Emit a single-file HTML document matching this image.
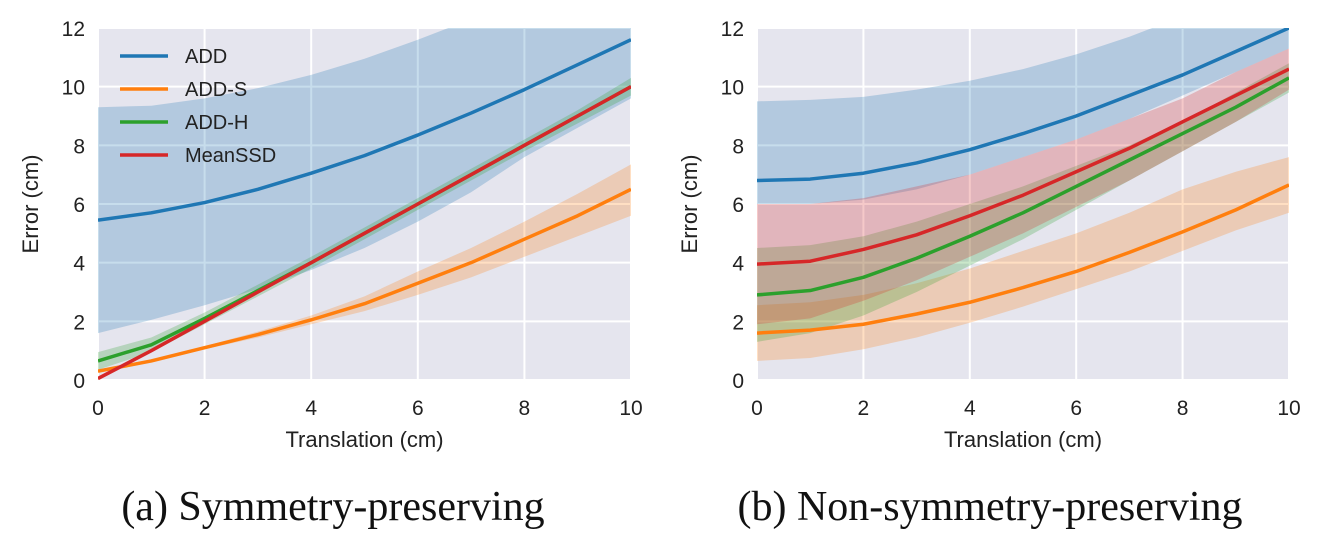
<!DOCTYPE html>
<html><head><meta charset="utf-8"><style>
body{margin:0;background:#fff;width:1340px;height:546px;overflow:hidden}
text{font-family:"Liberation Sans",sans-serif}
</style></head><body>
<svg id="svg" width="1340" height="546"></svg>
<script>
const xs=[0,1,2,3,4,5,6,7,8,9,10];
const seriesNames=["ADD","ADD-S","ADD-H","MeanSSD"];
const colors=["#1f77b4","#ff7f0e","#2ca02c","#d62728"];
const xTicks=[0,2,4,6,8,10];
const yTicks=[0,2,4,6,8,10,12];
// panel a
const aMean=[[5.45,5.7,6.05,6.5,7.05,7.65,8.35,9.1,9.9,10.75,11.6],[0.3,0.65,1.1,1.55,2.05,2.6,3.3,4.0,4.8,5.6,6.5],[0.65,1.2,2.1,3.05,4.0,5.0,6.0,7.0,8.0,9.0,10.0],[0.05,1.0,2.0,3.0,4.0,5.0,6.0,7.0,8.0,9.0,10.0]];
const aLow=[[1.6,2.05,2.55,3.1,3.75,4.5,5.4,6.4,7.6,8.6,9.6],[0.25,0.6,1.05,1.45,1.9,2.35,2.9,3.5,4.2,4.9,5.6],[0.35,0.95,1.9,2.85,3.8,4.8,5.8,6.8,7.8,8.75,9.7],[0.0,0.95,1.95,2.95,3.95,4.95,5.95,6.95,7.95,8.95,9.95]];
const aHigh=[[9.3,9.35,9.6,9.95,10.4,10.95,11.6,12.3,13,13.7,14.4],[0.35,0.7,1.15,1.65,2.2,2.85,3.7,4.5,5.4,6.35,7.35],[0.95,1.45,2.3,3.25,4.2,5.2,6.2,7.2,8.2,9.2,10.3],[0.1,1.05,2.05,3.05,4.05,5.05,6.05,7.05,8.05,9.05,10.05]];
// panel b
const bMean=[[6.8,6.85,7.05,7.4,7.85,8.4,9.0,9.7,10.4,11.2,12.0],[1.6,1.7,1.9,2.25,2.65,3.15,3.7,4.35,5.05,5.8,6.65],[2.9,3.05,3.5,4.15,4.9,5.7,6.6,7.5,8.4,9.3,10.3],[3.95,4.05,4.45,4.95,5.6,6.3,7.1,7.9,8.8,9.7,10.6]];
const bLow=[[6.0,6.0,6.15,6.5,7.0,7.6,8.2,8.9,9.7,10.5,11.3],[0.65,0.75,1.05,1.45,1.95,2.5,3.1,3.7,4.4,5.1,5.7],[1.3,1.6,2.2,3.0,3.9,4.8,5.8,6.8,7.8,8.8,9.8],[1.9,2.1,2.7,3.4,4.2,5.0,5.9,6.8,7.8,8.8,9.9]];
const bHigh=[[9.5,9.55,9.65,9.9,10.2,10.6,11.1,11.7,12.4,13.2,14],[2.55,2.65,2.9,3.3,3.8,4.4,5.0,5.7,6.5,7.1,7.6],[4.5,4.6,4.9,5.4,6.0,6.6,7.3,8.0,8.8,9.8,10.8],[6.0,6.0,6.2,6.6,7.0,7.6,8.2,8.9,9.6,10.5,11.3]];

const NS="http://www.w3.org/2000/svg";
const svg=document.getElementById('svg');
function mk(t,a,p){const e=document.createElementNS(NS,t);for(const k in a)e.setAttribute(k,a[k]);(p||svg).appendChild(e);return e;}
const Y0=380,Y1=28;
function panel(id,L,R,mean,low,high,legend,caption,cx){
  const g=mk('g',{});
  
  
  const xp=v=>L+(v/10)*(R-L), yp=v=>Y0-(v/12)*(Y0-Y1);
  const cp=mk('clipPath',{id:id+'c'},g);mk('rect',{x:L,y:Y1,width:R-L,height:Y0-Y1},cp);
  const bg=mk('rect',{x:L,y:Y1,width:R-L,height:Y0-Y1,fill:'#e5e5ee'},g);
  
  
  xTicks.forEach(t=>{mk('line',{x1:xp(t),x2:xp(t),y1:Y1,y2:Y0,stroke:'#fff','stroke-width':2},g);
    const tx=mk('text',{x:xp(t),y:415,'font-size':21,'text-anchor':'middle',fill:'#222'},g);tx.textContent=t;
    
    });
  yTicks.forEach(t=>{mk('line',{x1:L,x2:R,y1:yp(t),y2:yp(t),stroke:'#fff','stroke-width':2},g);
    const tx=mk('text',{x:L-13,y:yp(t)+8,'font-size':21,'text-anchor':'end',fill:'#222'},g);tx.textContent=t;
    
    });
  const pg=mk('g',{'clip-path':'url(#'+id+'c)'},g);
  for(let s=0;s<4;s++){
    let d=xs.map((x,i)=>(i?'L':'M')+xp(x)+','+yp(high[s][i])).join('');
    d+=xs.slice().reverse().map((x,j)=>'L'+xp(x)+','+yp(low[s][10-j])).join('')+'Z';
    const b=mk('path',{d:d,fill:colors[s],'fill-opacity':0.25},pg);
    
    
  }
  for(let s=0;s<4;s++){
    const d=xs.map((x,i)=>(i?'L':'M')+xp(x)+','+yp(mean[s][i])).join('');
    const l=mk('path',{d:d,fill:'none',stroke:colors[s],'stroke-width':3.5,'stroke-linejoin':'round'},pg);
    
    
  }
  const xl=mk('text',{x:(L+R)/2,y:447,'font-size':22,'text-anchor':'middle',fill:'#222'},g);xl.textContent='Translation (cm)';
  
  
  const yl=mk('text',{x:0,y:0,'font-size':22,'text-anchor':'middle',fill:'#222',transform:'translate('+(L-60)+',204) rotate(-90)'},g);yl.textContent='Error (cm)';
  
  
  if(legend){
    for(let s=0;s<4;s++){
      const y=56+s*33;
      const ll=mk('line',{x1:120,x2:168,y1:y,y2:y,stroke:colors[s],'stroke-width':3.5},g);
      
      
      const lt=mk('text',{x:185,y:y+7,'font-size':20,fill:'#222'},g);lt.textContent=seriesNames[s];
      
      
    }
  }
  const c=mk('text',{x:cx,y:520,'font-size':42,'text-anchor':'middle',fill:'#111',style:'font-family:"Liberation Serif",serif'},g);c.textContent=caption;
  
  
}
panel('panel-a',98,631,aMean,aLow,aHigh,true,'(a) Symmetry-preserving',333);
panel('panel-b',757,1289,bMean,bLow,bHigh,false,'(b) Non-symmetry-preserving',990);
</script>
</body></html>
